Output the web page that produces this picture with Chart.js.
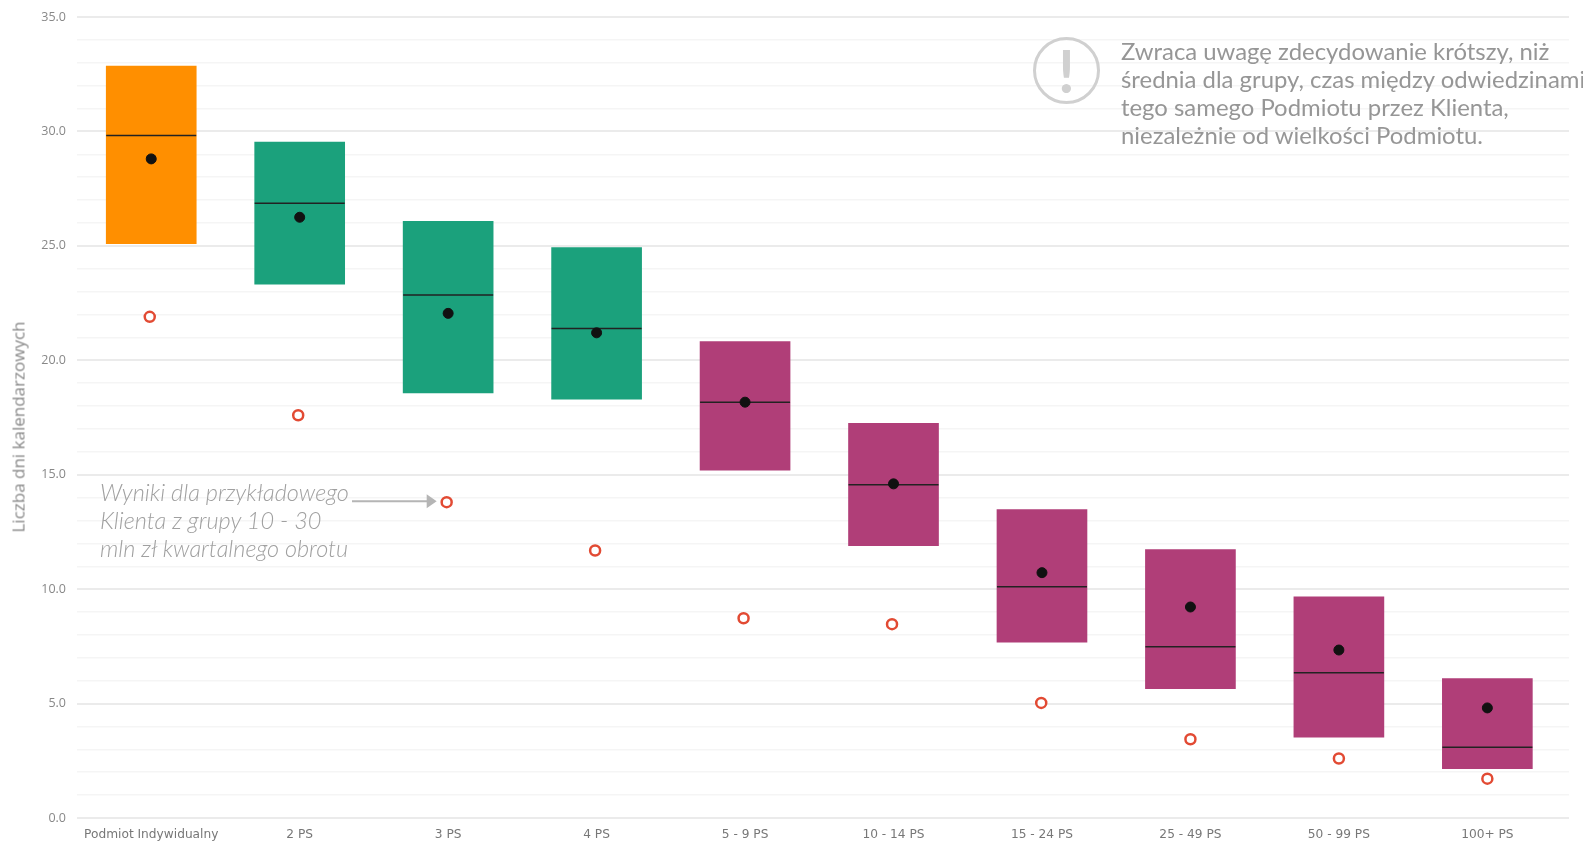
<!DOCTYPE html>
<html lang="pl">
<head>
<meta charset="utf-8">
<title>Liczba dni kalendarzowych</title>
<script src="https://cdn.jsdelivr.net/npm/chart.js@4"></script>
<style>
html,body{margin:0;padding:0;background:#fff;}
#wrap{position:relative;width:1583px;height:842px;overflow:hidden;}
#chart{position:absolute;left:0;top:0;}
.note{position:absolute;font-family:Lato,sans-serif;white-space:nowrap;}
#note-right{left:1121px;top:37px;font-size:23.9px;line-height:28px;font-weight:400;color:#969696;}
#note-left{left:100px;top:478px;font-size:23.5px;line-height:28px;font-weight:300;font-style:italic;color:#a0a0a0;}
#icon{position:absolute;left:1033px;top:37px;width:67px;height:67px;box-sizing:border-box;border:3px solid #d0d0d0;border-radius:50%;color:#d0d0d0;font:700 60px/60px Lato,sans-serif;text-align:center;}
#y-title{position:absolute;left:18px;top:427px;transform:translate(-50%,-50%) rotate(-90deg);font:400 17px "Open Sans",sans-serif;color:#888;white-space:nowrap;}
</style>
</head>
<body>
<div id="wrap">
<canvas id="chart" width="1583" height="842"></canvas>
<div id="y-title">Liczba dni kalendarzowych</div>
<div id="icon">!</div>
<div class="note" id="note-right">Zwraca uwagę zdecydowanie krótszy, niż<br>średnia dla grupy, czas między odwiedzinami<br>tego samego Podmiotu przez Klienta,<br>niezależnie od wielkości Podmiotu.</div>
<div class="note" id="note-left">Wyniki dla przykładowego<br>Klienta z grupy 10 - 30<br>mln zł kwartalnego obrotu</div>
</div>
<script>
const categories = ["Podmiot Indywidualny","2 PS","3 PS","4 PS","5 - 9 PS","10 - 14 PS","15 - 24 PS","25 - 49 PS","50 - 99 PS","100+ PS"];
const q1 = [25.1,23.33,18.57,18.3,15.2,11.9,7.68,5.65,3.53,2.16];
const q3 = [32.86,29.53,26.07,24.92,20.82,17.25,13.48,11.73,9.66,6.09];
const median = [29.82,26.86,22.85,21.39,18.17,14.56,10.1,7.48,6.35,3.09];
const mean = [28.8,26.25,22.05,21.2,18.17,14.6,10.72,9.22,7.34,4.81];
const client = [21.9,17.6,13.8,11.69,8.73,8.47,5.03,3.44,2.6,1.72];
const clientPos = [-0.01,0.99,1.99,2.99,3.99,4.99,5.995,7,8,9];
const barColors = ["#ff8f00","#1ba17c","#1ba17c","#1ba17c","#b03e78","#b03e78","#b03e78","#b03e78","#b03e78","#b03e78"];

function points(values){
return values.map((v,i)=>({x:i,y:v}));
}

// arrow from the italic note to the client's dot
const arrowPlugin = {
id:"arrow",
afterDatasetsDraw(chart){
const c = chart.ctx;
const y = chart.scales.y.getPixelForValue(client[2]) - 1;
const x = chart.scales.x.getPixelForValue(clientPos[2]) - 10;
c.save();
c.strokeStyle = c.fillStyle = "#b5b5b5";
c.lineWidth = 2;
c.beginPath();
c.moveTo(352,y);
c.lineTo(x-8,y);
c.stroke();
c.beginPath();
c.moveTo(x-10,y-7);
c.lineTo(x,y);
c.lineTo(x-10,y+7);
c.closePath();
c.fill();
c.restore();
}
};

new Chart(document.getElementById("chart"),{
type:"bar",
plugins:[arrowPlugin],
data:{
datasets:[
{
type:"scatter",
label:"Średnia",
data:points(mean),
pointStyle:"circle",
pointRadius:5,
backgroundColor:"#111",
borderColor:"#111",
order:1
},
{
type:"scatter",
label:"Klient",
data:client.map((v,i)=>({x:clientPos[i],y:v})),
pointStyle:"circle",
pointRadius:5,
borderWidth:2.5,
backgroundColor:"#fff",
borderColor:"#e24a33",
order:1
},
{
type:"scatter",
label:"Mediana",
data:points(median),
pointStyle:"line",
pointRadius:45,
borderWidth:1.5,
borderColor:"#222",
order:2
},
{
type:"bar",
label:"Zakres",
data:q1.map((v,i)=>({x:i,y:[v,q3[i]]})),
backgroundColor:barColors,
barThickness:90,
order:3
}
]
},
options:{
responsive:false,
animation:false,
layout:{autoPadding:false,padding:{top:17,right:14,bottom:0,left:0}},
plugins:{legend:{display:false},tooltip:{enabled:false}},
scales:{
x:{
type:"linear",
offset:false,
min:-0.5,
max:9.55,
afterBuildTicks(axis){axis.ticks = categories.map((c,i)=>({value:i}));},
afterFit(axis){axis.height = 24;},
grid:{display:false},
border:{display:false},
ticks:{
autoSkip:false,
maxRotation:0,
padding:2,
color:"#777",
font:{family:"DejaVu Sans",size:12.2},
callback(v){return categories[v];}
}
},
y:{
min:0,
max:35,
afterFit(axis){axis.width = 77;axis.paddingTop = 0;axis.paddingBottom = 0;},
border:{display:false},
grid:{
drawTicks:false,
color(ctx){return ctx.tick.value % 5 === 0 ? "#ebebeb" : "#f5f5f5";},
lineWidth(ctx){return ctx.tick.value % 5 === 0 ? 2 : 1.5;}
},
ticks:{
stepSize:1,
autoSkip:false,
padding:11,
color:"#888",
font:{family:"Open Sans",size:12.5},
callback(v){return v % 5 === 0 ? v.toFixed(1) : "";}
}
}
}
}
});
</script>
</body>
</html>
